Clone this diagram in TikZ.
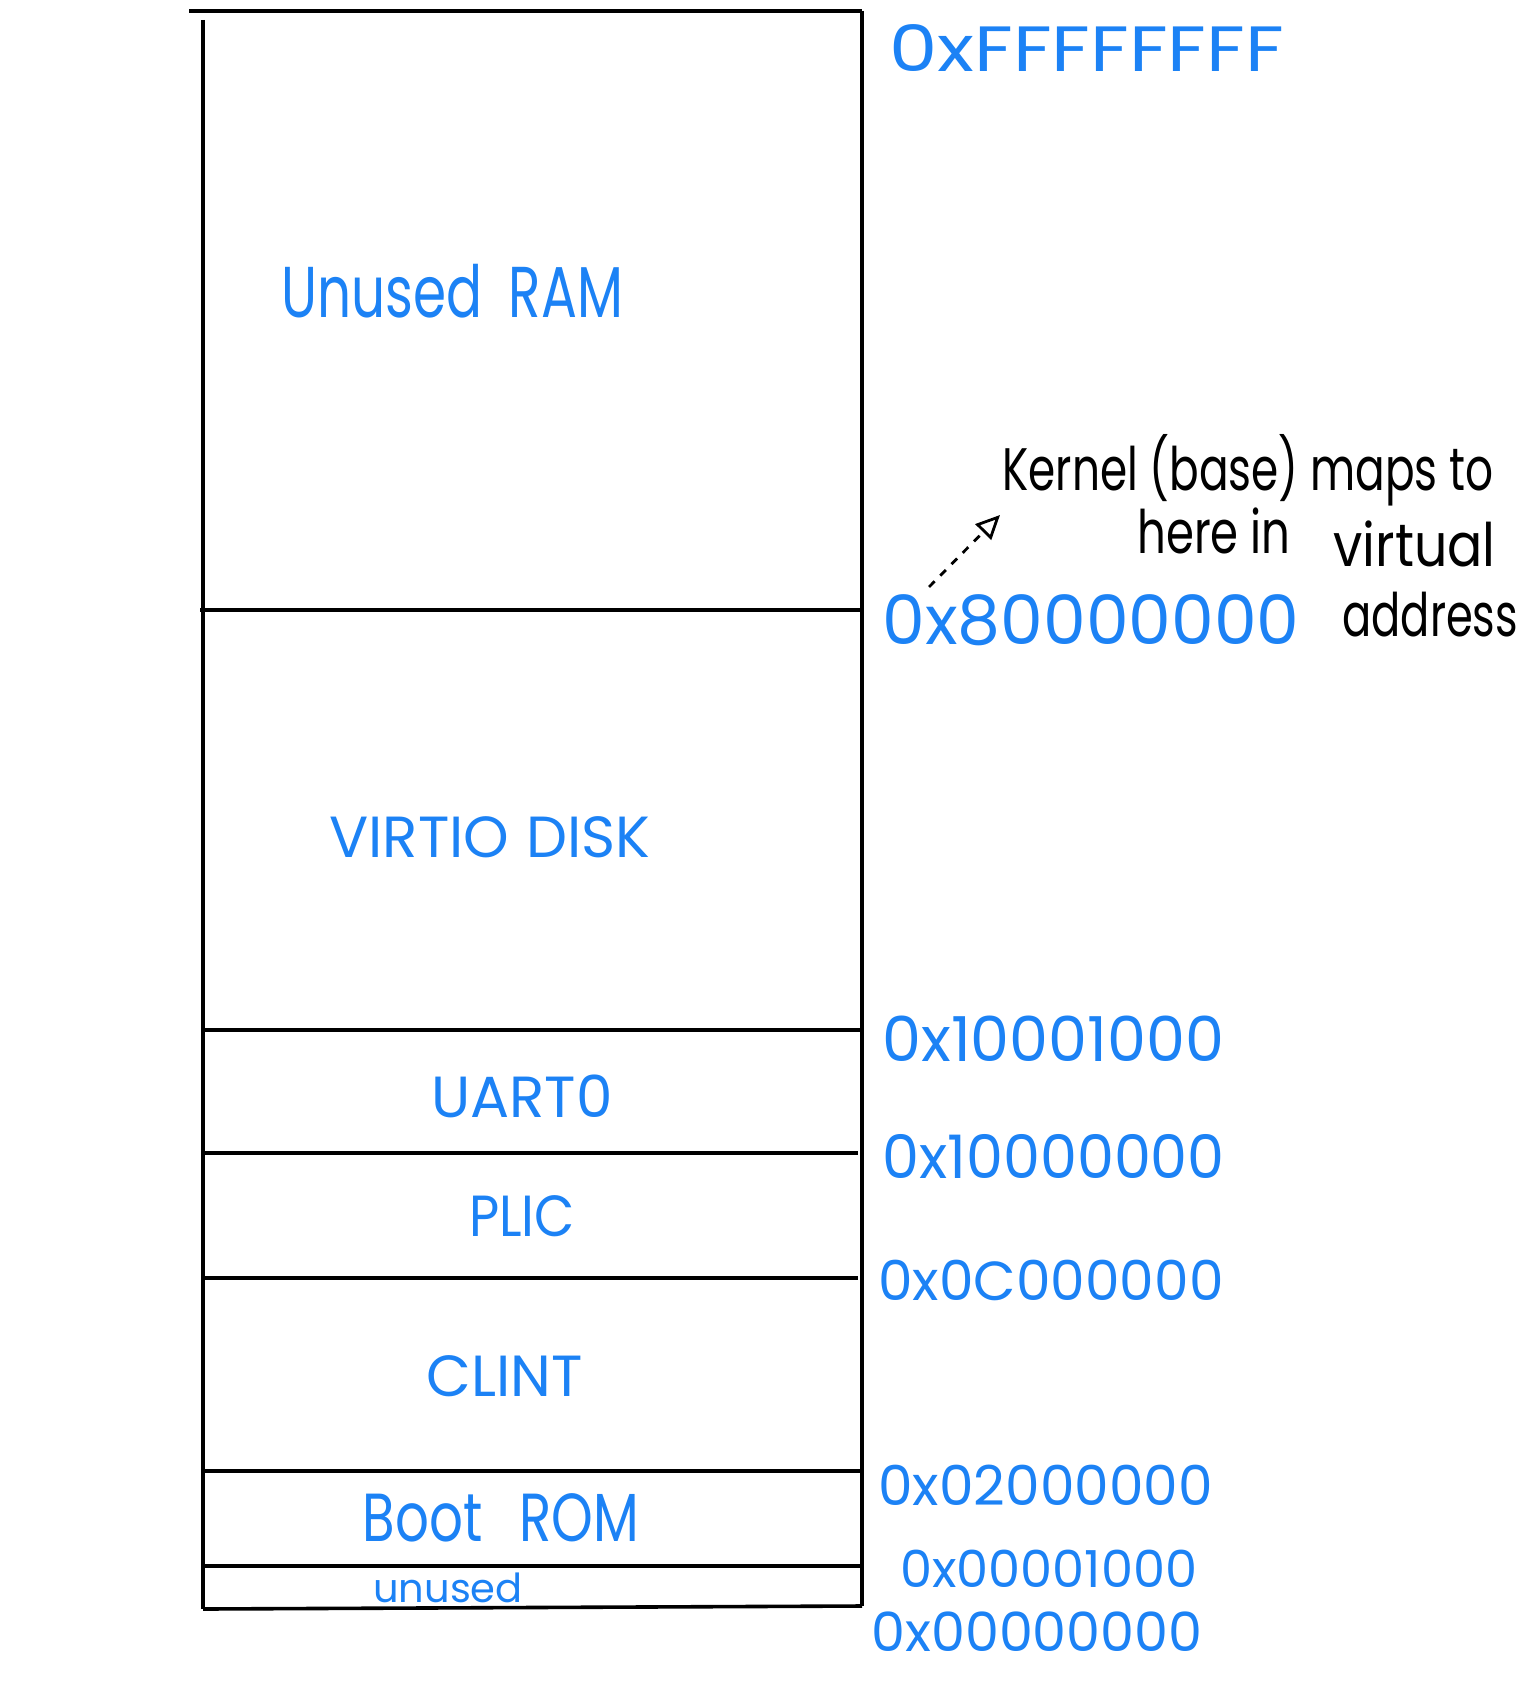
\documentclass[tikz,border=0pt]{standalone}
\usepackage{fontspec}
\setmainfont{Poppins}
\usetikzlibrary{positioning,arrows.meta}
\definecolor{penblue}{RGB}{28,130,245}
\newcommand{\squeezetext}[2]{\scalebox{#1}[1]{#2}}

\begin{document}
\begin{tikzpicture}[x=0.5pt,y=-0.5pt,
  wire/.style={line width=1.8pt},
  region/.style={text=penblue, font=\fontsize{29}{32}\selectfont},
  addr/.style={text=penblue, anchor=west, inner sep=0pt, font=\fontsize{30}{32}\selectfont},
  note/.style={anchor=base west, inner sep=0pt, font=\fontsize{30}{32}\selectfont}
]
\useasboundingbox (0,0) rectangle (1536,1690);

% Outer box of the memory map
\coordinate (TL) at (189,11);
\coordinate (TR) at (862,11);
\coordinate (LT) at (203,20);
\coordinate (LB) at (203,1609);
\coordinate (RB) at (862,1606);

% Region boundaries (left end)
\coordinate (L80) at (200,610);
\coordinate (L1001) at (203,1030);
\coordinate (L1000) at (203,1153);
\coordinate (L0C) at (203,1278);
\coordinate (L02) at (203,1471);
\coordinate (L001) at (203,1566);

% Region boundaries (right end)
\coordinate (R80) at (862,610);
\coordinate (R1001) at (862,1030);
\coordinate (R1000) at (858,1153);
\coordinate (R0C) at (858,1278);
\coordinate (R02) at (862,1471);
\coordinate (R001) at (862,1566);

% Draw wires
\draw[wire, line width=2.4pt] (TL) -- (TR);
\draw[wire] (LT) -- (LB);
\draw[wire] (TR) -- (RB);
\draw[wire] (LB) -- (RB);
\draw[wire] (L80) -- (R80);
\draw[wire] (L1001) -- (R1001);
\draw[wire] (L1000) -- (R1000);
\draw[wire] (L0C) -- (R0C);
\draw[wire] (L02) -- (R02);
\draw[wire] (L001) -- (R001);

% Region names
\node[region, font=\fontsize{36}{40}\selectfont] (ram) at (452,291) {\squeezetext{0.74}{Unused\hspace{0.5em}RAM}};
\node[region] (virtio) at (490,837) {VIRTIO\hspace{0.3em}DISK};
\node[region] (uart) at (522,1096) {UART0};
\node[region] (plic) at (522,1216) {\squeezetext{0.9}{PLIC}};
\node[region] (clint) at (505,1376) {CLINT};
\node[region, font=\fontsize{34}{36}\selectfont] (boot) at (501,1518) {\squeezetext{0.78}{Boot\hspace{0.7em}ROM}};
\node[region, font=\fontsize{20}{22}\selectfont] (unused) at (448,1588) {unused};

% Addresses
\node[addr, font=\fontsize{32}{34}\selectfont] (aFF) at (889,48) {\squeezetext{1.2}{0xFFFFFFFF}};
\node[addr, font=\fontsize{34}{36}\selectfont] (a80) at (882,620) {0x80000000};
\node[addr, font=\fontsize{31}{33}\selectfont] (a1001) at (882,1039) {0x10001000};
\node[addr] (a1000) at (882,1156) {\squeezetext{0.98}{0x10000000}};
\node[addr, font=\fontsize{27.5}{30}\selectfont] (a0C) at (878,1280) {0x0C000000};
\node[addr, font=\fontsize{27.5}{30}\selectfont] (a02) at (878,1485) {0x02000000};
\node[addr, font=\fontsize{25.5}{28}\selectfont] (a001) at (900,1569) {0x00001000};
\node[addr, font=\fontsize{27}{30}\selectfont] (a000) at (871,1632) {0x00000000};

% Kernel note
\node[note] (note1) at (1002,490) {\squeezetext{0.73}{Kernel (base) maps to}};
\node[note] (note2) at (1137,553) {\squeezetext{0.75}{here in}};
\node[note] (note3) at (1333,566) {\squeezetext{0.87}{virtual}};
\node[note] (note4) at (1342,636) {\squeezetext{0.72}{address}};

% Dashed arrow up to the note
\coordinate (kfrom) at (929,587);
\coordinate (kto) at (1000,515);
\draw[line width=1.4pt, dash pattern=on 4pt off 4pt, -{Triangle[open, length=12pt, width=11pt]}] (kfrom) -- (kto);
\end{tikzpicture}
\end{document}
